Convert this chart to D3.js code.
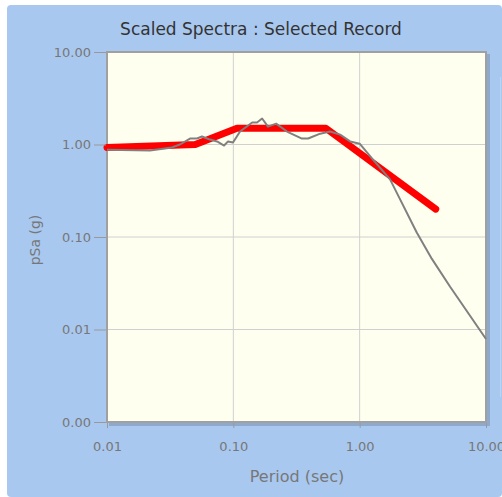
<!DOCTYPE html>
<html>
<head>
<meta charset="utf-8">
<script src="https://cdn.jsdelivr.net/npm/d3@7"></script>
<style>
	body { margin: 0; background: #fff; }
	#chart { width: 502px; height: 497px; }
	text { font-family: "DejaVu Sans", sans-serif; }
</style>
</head>
<body>
<div id="chart"></div>
<script>
// target (design) spectrum
const targetPeriods = [0.01, 0.05, 0.107, 0.54, 4.0];
const targetSa = [0.93, 1.0, 1.5, 1.5, 0.2];

// scaled record spectrum
const recordPeriods = [0.01, 0.0219, 0.0327, 0.0378, 0.0454, 0.0516, 0.0565, 0.0654, 0.0743, 0.0845,
	0.0908, 0.0994, 0.113, 0.141, 0.154, 0.169, 0.188, 0.218, 0.266, 0.349,
	0.391, 0.487, 0.583, 0.70, 0.84, 1.0, 1.27, 1.74, 2.09, 2.83,
	3.73, 5.2, 10.0];
const recordSa = [0.88, 0.86, 0.93, 1.0, 1.16, 1.16, 1.22, 1.13, 1.08, 0.975,
	1.08, 1.05, 1.38, 1.73, 1.73, 1.91, 1.56, 1.68, 1.38, 1.16,
	1.16, 1.31, 1.38, 1.28, 1.08, 1.02, 0.69, 0.42, 0.255, 0.112,
	0.058, 0.029, 0.0079];

const xTicks = [0.01, 0.1, 1, 10];
const yTicks = [0.001, 0.01, 0.1, 1, 10];

const width = 502, height = 497;
const margins = { top: 52, right: 16, bottom: 75, left: 107 };
const boundedWidth = width - margins.left - margins.right;
const boundedHeight = height - margins.top - margins.bottom;

const svg = d3.select('#chart')
	.append('svg')
		.attr('width', width)
		.attr('height', height);

// panel background
svg.append('rect')
	.attr('x', 7).attr('y', 5)
	.attr('width', width - 7).attr('height', height - 5)
	.attr('rx', 4)
	.attr('fill', '#a9c8ef');

svg.append('rect')
	.attr('x', 500).attr('y', 77)
	.attr('width', 1).attr('height', 320)
	.attr('fill', '#bcd3f1');

svg.append('text')
	.attr('x', 261)
	.attr('y', 35)
	.attr('text-anchor', 'middle')
	.attr('fill', '#333')
	.style('font-size', '17px')
	.text('Scaled Spectra : Selected Record');

const bounds = svg.append('g')
	.attr('transform', `translate(${margins.left},${margins.top})`);

const xScale = d3.scaleLog()
	.domain([0.01, 10])
	.range([0, boundedWidth]);

const yScale = d3.scaleLog()
	.domain([0.001, 10])
	.range([boundedHeight, 0]);

// shadow + plot area
bounds.append('rect')
	.attr('x', 2).attr('y', 2)
	.attr('width', boundedWidth + 2).attr('height', boundedHeight + 2)
	.attr('fill', '#8fa9cc');
bounds.append('rect')
	.attr('width', boundedWidth).attr('height', boundedHeight)
	.attr('fill', '#fffff0')
	.attr('stroke', '#a0a0a0')
	.attr('stroke-width', 2);

// grid
bounds.append('g')
	.selectAll('line')
	.data(xTicks.slice(1, -1))
	.join('line')
		.attr('x1', d => xScale(d)).attr('x2', d => xScale(d))
		.attr('y1', 1).attr('y2', boundedHeight - 1)
		.attr('stroke', '#d0d0d0');
bounds.append('g')
	.selectAll('line')
	.data(yTicks.slice(1, -1))
	.join('line')
		.attr('y1', d => yScale(d)).attr('y2', d => yScale(d))
		.attr('x1', 1).attr('x2', boundedWidth - 1)
		.attr('stroke', '#d0d0d0');

const lineGenerator = d3.line()
	.x(d => xScale(d[0]))
	.y(d => yScale(d[1]));

bounds.append('path')
	.attr('d', lineGenerator(d3.zip(targetPeriods, targetSa)))
	.attr('fill', 'none')
	.attr('stroke', '#ff0000')
	.attr('stroke-width', 7)
	.attr('stroke-linecap', 'round')
	.attr('stroke-linejoin', 'round');

bounds.append('path')
	.attr('d', lineGenerator(d3.zip(recordPeriods, recordSa)))
	.attr('fill', 'none')
	.attr('stroke', '#808080')
	.attr('stroke-width', 2)
	.attr('stroke-linejoin', 'round');

// axes
const yAxis = bounds.append('g')
	.attr('transform', 'translate(-1,0)')
	.call(d3.axisLeft(yScale).tickValues(yTicks).tickFormat(d3.format('.2f')).tickSize(12).tickPadding(3));
yAxis.select('.domain').remove();

const xAxis = bounds.append('g')
	.attr('transform', `translate(0,${boundedHeight + 1})`)
	.call(d3.axisBottom(xScale).tickValues(xTicks).tickFormat(d3.format('.2f')).tickSize(5).tickPadding(14));
xAxis.select('.domain').remove();

svg.selectAll('.tick line').attr('stroke', '#999');
svg.selectAll('.tick text')
	.attr('fill', '#777')
	.style('font-size', '13px')
	.style('font-family', '"DejaVu Sans", sans-serif');

svg.append('text')
	.attr('x', 297)
	.attr('y', 482)
	.attr('text-anchor', 'middle')
	.attr('fill', '#777')
	.style('font-size', '16px')
	.text('Period (sec)');

svg.append('text')
	.attr('transform', 'translate(40,240) rotate(-90)')
	.attr('text-anchor', 'middle')
	.attr('fill', '#777')
	.style('font-size', '14px')
	.text('pSa (g)');
</script>
</body>
</html>
